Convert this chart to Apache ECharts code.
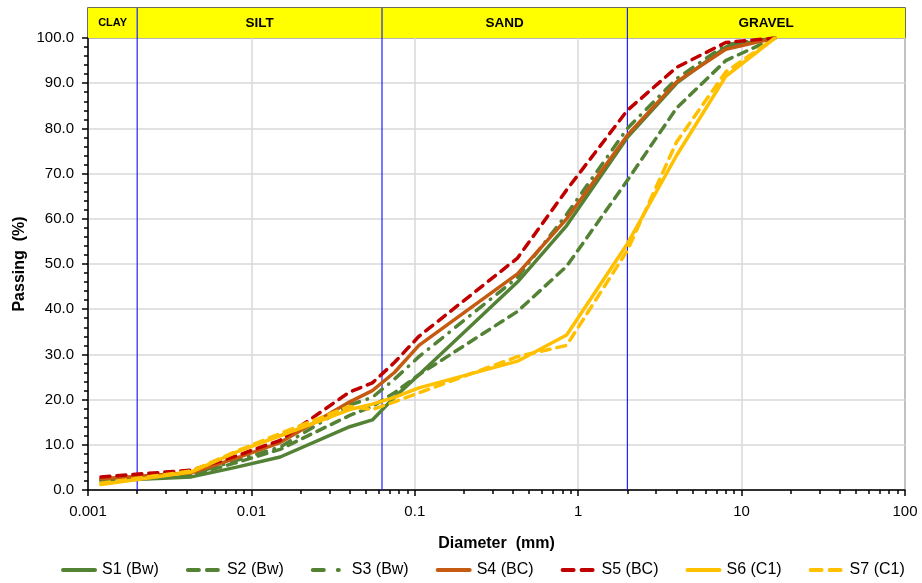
<!DOCTYPE html>
<html>
<head>
<meta charset="utf-8">
<script src="https://cdn.jsdelivr.net/npm/echarts@6/dist/echarts.min.js"></script>
<style>
  html, body { margin: 0; padding: 0; background: #fff; }
  #chart { width: 922px; height: 583px; }
</style>
</head>
<body>
<div id="chart"></div>
<script>
'use strict';

// sieve / hydrometer diameters (mm) shared by all samples
const diameters = [0.0012, 0.0043, 0.008, 0.015, 0.04, 0.055, 0.075, 0.106, 0.425, 0.85, 2, 4, 8, 16];

// percent passing per sample
const s1 = [2.0, 2.9, 5.0, 7.3, 14.0, 15.5, 20.5, 25.5, 46.0, 58.5, 78.0, 90.0, 98.0, 100];
const s2 = [2.3, 3.3, 6.0, 9.0, 16.5, 18.5, 21.5, 25.5, 39.5, 49.5, 68.5, 84.5, 95.0, 100];
const s3 = [2.3, 3.5, 6.5, 9.5, 18.8, 20.5, 24.5, 29.5, 47.0, 61.0, 80.0, 91.0, 98.5, 100];
const s4 = [2.5, 3.8, 7.0, 10.5, 19.5, 22.0, 26.0, 32.0, 47.8, 60.0, 78.5, 90.3, 97.5, 100];
const s5 = [2.9, 4.4, 7.5, 11.0, 21.7, 23.7, 28.2, 34.0, 51.3, 66.4, 84.0, 93.5, 99.0, 100];
const s6 = [1.2, 4.0, 8.3, 12.0, 17.8, 19.0, 20.5, 22.6, 28.5, 34.3, 54.5, 74.0, 91.5, 100];
const s7 = [1.5, 4.2, 8.5, 12.5, 18.5, 17.8, 19.5, 21.5, 29.5, 32.0, 53.0, 77.0, 92.5, 100];

const seriesNames = ['S1 (Bw)', 'S2 (Bw)', 'S3 (Bw)', 'S4 (BC)', 'S5 (BC)', 'S6 (C1)', 'S7 (C1)'];

// soil classes (mm)
const classNames = ['CLAY', 'SILT', 'SAND', 'GRAVEL'];
const classBounds = [0.001, 0.002, 0.063, 2, 100];

// axis ticks
const xTickLabels = ['0.001', '0.01', '0.1', '1', '10', '100'];
const xMinorTicks = [];
[0.001, 0.01, 0.1, 1, 10].forEach(function (dec) {
  for (let k = 2; k <= 9; k++) xMinorTicks.push(+(dec * k).toPrecision(3));
});

const green = '#548235';
const font = 'Liberation Sans, Arial, sans-serif';

// legend icons matching the line styles
const icons = {
  solid: 'path://M2,0H34A2,2 0 0 1 34,4H2A2,2 0 0 1 2,0Z',
  dash: 'path://M2,0H13A2,2 0 0 1 13,4H2A2,2 0 0 1 2,0Z M21,0H32A2,2 0 0 1 32,4H21A2,2 0 0 1 21,0Z M36,0h0v4h0z',
  dashdot: 'path://M2,0H13A2,2 0 0 1 13,4H2A2,2 0 0 1 2,0Z M27,0H28A2,2 0 0 1 28,4H27A2,2 0 0 1 27,0Z M36,0h0v4h0z',
};

function pairs(values) {
  return diameters.map(function (d, i) { return [d, values[i]]; });
}

function line(name, values, color, type) {
  return {
    name: name,
    type: 'line',
    xAxisIndex: 0,
    yAxisIndex: 0,
    data: pairs(values),
    symbol: 'none',
    lineStyle: { color: color, width: 3.5, type: type, cap: 'round', join: 'round' },
    itemStyle: { color: color },
    emphasis: { disabled: true },
    z: 3,
  };
}

// vertical class boundaries, drawn as 2-point lines in both grids
function boundary(b, xIdx, yIdx, top) {
  return {
    type: 'line',
    xAxisIndex: xIdx,
    yAxisIndex: yIdx,
    data: [[b, 0], [b, top]],
    symbol: 'none',
    silent: true,
    lineStyle: { color: '#2020ff', width: 1.2 },
    z: 2,
  };
}
const boundarySeries = [];
classBounds.slice(1, 4).forEach(function (b) {
  boundarySeries.push(boundary(b, 0, 0, 100));
  boundarySeries.push(boundary(b, 2, 1, 1));
});

const bandAreas = classNames.map(function (n, i) {
  return [
    { name: n, xAxis: classBounds[i], yAxis: 0, label: { fontSize: i === 0 ? 11 : 13.5 } },
    { xAxis: classBounds[i + 1], yAxis: 1 },
  ];
});

const legendIcons = [icons.solid, icons.dash, icons.dashdot, icons.solid, icons.dash, icons.solid, icons.dash];

const chart = echarts.init(document.getElementById('chart'), null, { renderer: 'canvas' });

chart.setOption({
  animation: false,
  textStyle: { fontFamily: font },
  grid: [
    { left: 88, right: 17, top: 38, bottom: 93, show: true, borderColor: '#000', borderWidth: 1, backgroundColor: 'transparent' },
    { left: 88, right: 17, top: 8, height: 30, show: true, borderColor: '#403c28', borderWidth: 1.5, backgroundColor: 'transparent' },
  ],
  xAxis: [
    {
      type: 'log', logBase: 10, min: 0.001, max: 100, gridIndex: 0,
      name: 'Diameter  (mm)', nameLocation: 'middle', nameGap: 46,
      nameTextStyle: { fontSize: 16, fontWeight: 'bold', color: '#000', fontFamily: font },
      axisLine: { show: true, onZero: false, lineStyle: { color: '#000', width: 1.5 } },
      axisTick: { show: true, inside: false, length: 6, lineStyle: { color: '#000', width: 1.5 } },
      axisLabel: {
        fontSize: 15, color: '#000', margin: 14, fontFamily: font,
        formatter: function (v) {
          const i = Math.round(Math.log10(v)) + 3;
          return xTickLabels[i] !== undefined ? xTickLabels[i] : '';
        },
      },
      splitLine: { show: true, lineStyle: { color: '#d9d9d9', width: 1.5 } },
    },
    {
      type: 'log', logBase: 10, min: 0.001, max: 100, gridIndex: 0, position: 'bottom',
      axisLine: { show: false },
      axisLabel: { show: false },
      splitLine: { show: false },
      axisTick: { show: true, inside: false, length: 4, customValues: xMinorTicks, lineStyle: { color: '#000', width: 1.5 } },
    },
    {
      type: 'log', logBase: 10, min: 0.001, max: 100, gridIndex: 1, show: false,
    },
  ],
  yAxis: [
    {
      type: 'value', min: 0, max: 100, interval: 10, gridIndex: 0,
      name: 'Passing  (%)', nameLocation: 'middle', nameGap: 60, nameRotate: 90,
      nameMoveOverlap: false,
      nameTextStyle: { fontSize: 16, fontWeight: 'bold', color: '#000', fontFamily: font },
      axisLine: { show: true, lineStyle: { color: '#000', width: 1.5 } },
      axisTick: { show: true, inside: false, length: 6, lineStyle: { color: '#000', width: 1.5 } },
      minorTick: { show: true, splitNumber: 5, length: 4, lineStyle: { color: '#000', width: 1.5 } },
      axisLabel: {
        fontSize: 15, color: '#000', margin: 14, fontFamily: font,
        formatter: function (v) { return v.toFixed(1); },
      },
      splitLine: { show: true, lineStyle: { color: '#d9d9d9', width: 1.5 } },
    },
    { type: 'value', min: 0, max: 1, gridIndex: 1, show: false },
  ],
  legend: {
    bottom: 0,
    left: 56,
    itemWidth: 36,
    itemHeight: 4,
    itemGap: 27,
    itemStyle: { borderWidth: 0 },
    textStyle: { fontSize: 16, color: '#000', fontFamily: font },
    data: seriesNames.map(function (n, i) { return { name: n, icon: legendIcons[i] }; }),
  },
  series: [
    line(seriesNames[0], s1, green, 'solid'),
    line(seriesNames[1], s2, green, [9, 7]),
    line(seriesNames[2], s3, green, [10, 8, 0.5, 8]),
    line(seriesNames[3], s4, '#c55a11', 'solid'),
    line(seriesNames[4], s5, '#c00000', [9, 7]),
    line(seriesNames[5], s6, '#ffc000', 'solid'),
    line(seriesNames[6], s7, '#ffc000', [9, 7]),
    {
      type: 'line',
      xAxisIndex: 2,
      yAxisIndex: 1,
      data: [[0.001, 0], [100, 0]],
      symbol: 'none',
      lineStyle: { opacity: 0 },
      silent: true,
      z: 1,
      markArea: {
        silent: true,
        itemStyle: { color: '#ffff00' },
        label: {
          show: true, position: 'inside', color: '#000', fontWeight: 'bold',
          fontSize: 13.5, fontFamily: font,
        },
        data: bandAreas,
      },
    },
  ].concat(boundarySeries),
});
</script>
</body>
</html>
